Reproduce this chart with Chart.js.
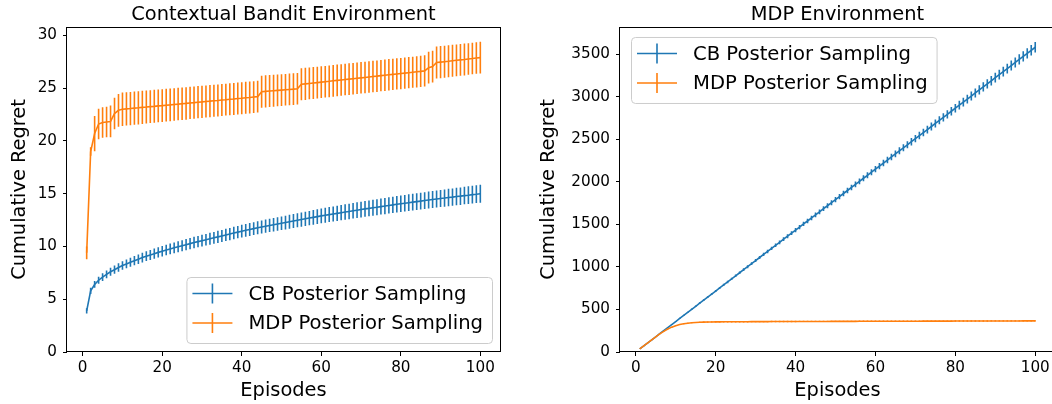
<!DOCTYPE html>
<html>
<head>
<meta charset="utf-8">
<script src="https://cdn.jsdelivr.net/npm/chart.js@4.4.0/dist/chart.umd.min.js"></script>
<style>
  html, body { margin: 0; padding: 0; background: #fff; }
  body { width: 1052px; height: 404px; overflow: hidden; position: relative; }
  #left { position: absolute; left: 0; top: 0; }
  #right { position: absolute; left: 520px; top: 0; }
</style>
</head>
<body>
<canvas id="left" width="520" height="404"></canvas>
<canvas id="right" width="536" height="404"></canvas>
<script>
// episodes (x) shared by every series
const episodes = [
  1, 2, 3, 4, 5, 6, 7, 8, 9, 10, 11, 12, 13, 14, 15, 16, 17, 18, 19, 20,
  21, 22, 23, 24, 25, 26, 27, 28, 29, 30, 31, 32, 33, 34, 35, 36, 37, 38, 39, 40,
  41, 42, 43, 44, 45, 46, 47, 48, 49, 50, 51, 52, 53, 54, 55, 56, 57, 58, 59, 60,
  61, 62, 63, 64, 65, 66, 67, 68, 69, 70, 71, 72, 73, 74, 75, 76, 77, 78, 79, 80,
  81, 82, 83, 84, 85, 86, 87, 88, 89, 90, 91, 92, 93, 94, 95, 96, 97, 98, 99, 100
];

// Contextual bandit environment
const cbEnvCbMean = [
  3.90, 5.80, 6.40, 6.80, 7.10, 7.35, 7.60, 7.80, 8.00, 8.20,
  8.35, 8.50, 8.65, 8.80, 8.95, 9.08, 9.20, 9.32, 9.44, 9.55,
  9.66, 9.77, 9.87, 9.97, 10.07, 10.17, 10.27, 10.37, 10.46, 10.55,
  10.64, 10.73, 10.82, 10.91, 11.00, 11.09, 11.18, 11.27, 11.36, 11.45,
  11.53, 11.61, 11.69, 11.77, 11.85, 11.92, 11.99, 12.06, 12.13, 12.20,
  12.27, 12.34, 12.41, 12.48, 12.55, 12.62, 12.69, 12.76, 12.83, 12.90,
  12.96, 13.02, 13.08, 13.14, 13.20, 13.26, 13.32, 13.38, 13.44, 13.50,
  13.56, 13.61, 13.67, 13.72, 13.78, 13.83, 13.89, 13.94, 14.00, 14.05,
  14.10, 14.15, 14.20, 14.25, 14.30, 14.35, 14.40, 14.45, 14.50, 14.55,
  14.59, 14.64, 14.68, 14.73, 14.77, 14.82, 14.86, 14.91, 14.95, 15.00
];
const cbEnvCbErr = [
  0.25, 0.30, 0.32, 0.34, 0.36, 0.37, 0.38, 0.39, 0.40, 0.41,
  0.42, 0.43, 0.44, 0.45, 0.46, 0.46, 0.47, 0.48, 0.49, 0.50,
  0.50, 0.51, 0.51, 0.52, 0.52, 0.53, 0.53, 0.54, 0.54, 0.55,
  0.55, 0.56, 0.56, 0.57, 0.57, 0.58, 0.58, 0.59, 0.59, 0.60,
  0.60, 0.61, 0.61, 0.62, 0.62, 0.63, 0.63, 0.64, 0.64, 0.65,
  0.65, 0.66, 0.66, 0.67, 0.67, 0.68, 0.68, 0.69, 0.69, 0.70,
  0.70, 0.71, 0.71, 0.72, 0.72, 0.73, 0.73, 0.74, 0.74, 0.75,
  0.75, 0.75, 0.76, 0.76, 0.76, 0.77, 0.77, 0.77, 0.78, 0.78,
  0.78, 0.79, 0.79, 0.79, 0.80, 0.80, 0.80, 0.81, 0.81, 0.81,
  0.82, 0.82, 0.82, 0.83, 0.83, 0.83, 0.84, 0.84, 0.84, 0.85
];
const cbEnvMdpMean = [
  9.40, 19.00, 20.70, 21.60, 21.75, 21.80, 21.85, 22.60, 22.90, 23.00,
  23.04, 23.07, 23.11, 23.14, 23.18, 23.21, 23.25, 23.28, 23.32, 23.35,
  23.39, 23.42, 23.46, 23.49, 23.53, 23.56, 23.60, 23.63, 23.67, 23.70,
  23.74, 23.77, 23.81, 23.84, 23.88, 23.91, 23.95, 23.98, 24.02, 24.05,
  24.09, 24.12, 24.16, 24.20, 24.67, 24.70, 24.73, 24.76, 24.79, 24.82,
  24.85, 24.88, 24.91, 24.95, 25.37, 25.41, 25.45, 25.49, 25.53, 25.57,
  25.61, 25.65, 25.70, 25.74, 25.78, 25.82, 25.86, 25.90, 25.94, 25.98,
  26.02, 26.06, 26.10, 26.14, 26.19, 26.23, 26.27, 26.31, 26.35, 26.39,
  26.43, 26.47, 26.51, 26.55, 26.59, 26.64, 26.95, 27.05, 27.43, 27.47,
  27.51, 27.55, 27.60, 27.64, 27.68, 27.72, 27.77, 27.81, 27.86, 27.90
];
const cbEnvMdpErr = [
  0.60, 0.40, 1.67, 1.45, 1.45, 1.45, 1.50, 1.50, 1.55, 1.58,
  1.58, 1.58, 1.57, 1.57, 1.57, 1.56, 1.56, 1.56, 1.55, 1.55,
  1.55, 1.55, 1.54, 1.54, 1.54, 1.54, 1.53, 1.53, 1.53, 1.53,
  1.52, 1.52, 1.52, 1.52, 1.52, 1.51, 1.51, 1.51, 1.51, 1.51,
  1.51, 1.51, 1.50, 1.50, 1.52, 1.52, 1.51, 1.51, 1.51, 1.51,
  1.50, 1.50, 1.50, 1.50, 1.52, 1.52, 1.51, 1.51, 1.51, 1.50,
  1.50, 1.50, 1.50, 1.50, 1.50, 1.50, 1.50, 1.49, 1.49, 1.49,
  1.49, 1.49, 1.49, 1.49, 1.49, 1.49, 1.49, 1.48, 1.48, 1.48,
  1.48, 1.48, 1.48, 1.48, 1.48, 1.48, 1.50, 1.50, 1.52, 1.52,
  1.52, 1.51, 1.51, 1.51, 1.51, 1.51, 1.50, 1.50, 1.50, 1.50
];

// MDP environment
const mdpEnvCbMean = [
  36, 72, 107, 143, 179, 215, 251, 286, 322, 358,
  394, 430, 465, 501, 537, 573, 609, 644, 680, 716,
  752, 788, 823, 859, 895, 931, 967, 1002, 1038, 1074,
  1110, 1146, 1181, 1217, 1253, 1289, 1325, 1360, 1396, 1432,
  1468, 1504, 1539, 1575, 1611, 1647, 1683, 1718, 1754, 1790,
  1826, 1862, 1897, 1933, 1969, 2005, 2041, 2076, 2112, 2148,
  2184, 2220, 2255, 2291, 2327, 2363, 2399, 2434, 2470, 2506,
  2542, 2578, 2613, 2649, 2685, 2721, 2757, 2792, 2828, 2864,
  2900, 2936, 2971, 3007, 3043, 3079, 3115, 3150, 3186, 3222,
  3258, 3294, 3329, 3365, 3401, 3437, 3473, 3508, 3544, 3580
];
const mdpEnvCbErr = [
  2, 3, 3, 4, 4, 5, 5, 6, 6, 7,
  7, 8, 8, 9, 9, 10, 10, 11, 11, 12,
  13, 13, 14, 14, 15, 16, 16, 17, 17, 18,
  19, 19, 20, 20, 21, 22, 22, 23, 23, 24,
  25, 25, 26, 26, 27, 28, 28, 29, 29, 30,
  31, 31, 32, 33, 33, 34, 35, 35, 36, 37,
  37, 38, 39, 39, 40, 41, 41, 42, 43, 43,
  44, 45, 45, 46, 47, 47, 48, 49, 49, 50,
  51, 51, 52, 53, 53, 54, 55, 55, 56, 57,
  57, 58, 58, 59, 59, 60, 60, 61, 61, 62
];
const mdpEnvMdpMean = [
  36, 72, 107, 143, 178, 212, 243, 270, 292, 309,
  322, 331, 338, 343, 346, 349, 351, 352, 353, 354,
  354, 355, 355, 355, 356, 356, 356, 356, 357, 357,
  357, 357, 357, 358, 358, 358, 358, 358, 358, 358,
  359, 359, 359, 359, 359, 359, 359, 359, 360, 360,
  360, 360, 360, 360, 360, 361, 361, 361, 361, 361,
  361, 361, 361, 362, 362, 362, 362, 362, 362, 362,
  362, 363, 363, 363, 363, 363, 363, 363, 363, 364,
  364, 364, 364, 364, 364, 364, 364, 364, 365, 365,
  365, 365, 365, 365, 365, 365, 366, 366, 366, 366
];
const mdpEnvMdpErr = [
  1, 1, 2, 2, 2, 3, 3, 3, 4, 4,
  4, 5, 5, 5, 6, 6, 6, 7, 7, 7,
  8, 8, 8, 8, 8, 8, 8, 8, 8, 8,
  8, 8, 8, 8, 8, 8, 8, 8, 8, 8,
  7, 7, 7, 7, 7, 7, 7, 7, 7, 7,
  7, 7, 7, 7, 8, 8, 8, 8, 8, 8,
  8, 8, 8, 8, 8, 8, 8, 8, 8, 8,
  8, 8, 8, 8, 8, 8, 8, 8, 8, 8,
  8, 8, 8, 8, 8, 8, 8, 8, 8, 8,
  8, 8, 8, 8, 7, 7, 7, 7, 7, 7
];

const xTicks = [0, 20, 40, 60, 80, 100];
const cbEnvYTicks = [0, 5, 10, 15, 20, 25, 30];
const mdpEnvYTicks = [0, 500, 1000, 1500, 2000, 2500, 3000, 3500];
const seriesNames = ['CB Posterior Sampling', 'MDP Posterior Sampling'];

const BLUE = '#1f77b4';
const ORANGE = '#ff7f0e';
const FONT = '"DejaVu Sans", sans-serif';
const TICK_SIZE = 15.2;
const LABEL_SIZE = 19.4;
const LEGEND_SIZE = 19.6;

const toPoints = (ys) => ys.map((y, i) => ({ x: episodes[i], y: y }));

// vertical error bars drawn right after each line, through the chart scales
const errorBarPlugin = {
  id: 'errorBars',
  afterDatasetDraw(chart, args) {
    const ds = chart.data.datasets[args.index];
    if (!ds.errs) return;
    const ctx = chart.ctx, xs = chart.scales.x, ys = chart.scales.y, a = chart.chartArea;
    ctx.save();
    ctx.beginPath();
    ctx.rect(a.left, a.top, a.right - a.left, a.bottom - a.top);
    ctx.clip();
    ctx.strokeStyle = ds.borderColor;
    ctx.lineWidth = 1.6;
    ctx.beginPath();
    ds.data.forEach((p, i) => {
      const px = xs.getPixelForValue(p.x);
      ctx.moveTo(px, ys.getPixelForValue(p.y - ds.errs[i]));
      ctx.lineTo(px, ys.getPixelForValue(p.y + ds.errs[i]));
    });
    ctx.stroke();
    ctx.restore();
  }
};

// matplotlib style frame (all 4 spines)
const framePlugin = {
  id: 'frame',
  afterDatasetsDraw(chart) {
    const ctx = chart.ctx, a = chart.chartArea;
    ctx.save();
    ctx.strokeStyle = '#000';
    ctx.lineWidth = 1;
    ctx.strokeRect(Math.round(a.left) - 0.5, Math.round(a.top) + 0.5,
      Math.round(a.right - a.left) + 1, Math.round(a.bottom - a.top) - 1);
    ctx.restore();
  }
};

// legend box with errorbar markers
const boxLegendPlugin = {
  id: 'boxLegend',
  afterDraw(chart, args, opts) {
    if (!opts.corner) return;
    const ctx = chart.ctx, a = chart.chartArea;
    ctx.save();
    ctx.font = LEGEND_SIZE + 'px ' + FONT;
    const textW = Math.max(...seriesNames.map(t => ctx.measureText(t).width));
    const w = 62 + textW + 9, h = 66;
    const x = opts.corner === 'lower right' ? a.right - 8 - w : a.left + 11;
    const y = opts.corner === 'lower right' ? a.bottom - 9 - h : a.top + 10;
    ctx.beginPath();
    ctx.roundRect(x + 0.5, y + 0.5, w, h, 4);
    ctx.fillStyle = 'rgba(255,255,255,0.8)';
    ctx.fill();
    ctx.strokeStyle = '#cccccc';
    ctx.lineWidth = 1;
    ctx.stroke();
    const colors = [BLUE, ORANGE];
    seriesNames.forEach((name, i) => {
      const cy = y + 16.5 + i * 29.5;
      ctx.strokeStyle = colors[i];
      ctx.lineWidth = 1.6;
      ctx.beginPath();
      ctx.moveTo(x + 6, cy);
      ctx.lineTo(x + 46, cy);
      ctx.moveTo(x + 26, cy - 10);
      ctx.lineTo(x + 26, cy + 10);
      ctx.stroke();
      ctx.fillStyle = '#000';
      ctx.textBaseline = 'middle';
      ctx.textAlign = 'left';
      ctx.fillText(name, x + 62, cy + 1);
    });
    ctx.restore();
  }
};

function makeChart(id, title, cbMean, cbErr, mdpMean, mdpErr, yMax, yTicks, yWidth, yTitlePad, padRight, legendCorner) {
  const ctx = document.getElementById(id).getContext('2d');
  return new Chart(ctx, {
    type: 'line',
    data: {
      datasets: [
        { label: seriesNames[0], data: toPoints(cbMean), errs: cbErr, borderColor: BLUE,
          borderWidth: 1.6, pointRadius: 0, tension: 0, order: 1 },
        { label: seriesNames[1], data: toPoints(mdpMean), errs: mdpErr, borderColor: ORANGE,
          borderWidth: 1.6, pointRadius: 0, tension: 0, order: 0 }
      ]
    },
    options: {
      responsive: false,
      animation: false,
      layout: { padding: { left: 0, right: padRight, top: 0, bottom: 0 } },
      scales: {
        x: {
          type: 'linear', min: -3.95, max: 104.95,
          afterBuildTicks: s => { s.ticks = xTicks.map(v => ({ value: v })); },
          afterFit: s => { s.height = 52; },
          grid: { drawOnChartArea: false, tickLength: 4, color: '#000', tickColor: '#000' },
          border: { display: false },
          ticks: { color: '#000', font: { family: FONT, size: TICK_SIZE }, padding: 3.4, maxRotation: 0,
            callback: v => String(v) },
          title: { display: true, text: 'Episodes', color: '#000',
            font: { family: FONT, size: LABEL_SIZE }, padding: { top: 0, bottom: 1.4 } }
        },
        y: {
          type: 'linear', min: 0, max: yMax,
          afterBuildTicks: s => { s.ticks = yTicks.map(v => ({ value: v })); },
          afterFit: s => { s.width = yWidth; },
          grid: { drawOnChartArea: false, tickLength: 4, color: '#000', tickColor: '#000' },
          border: { display: false },
          ticks: { color: '#000', font: { family: FONT, size: TICK_SIZE }, padding: 6,
            callback: v => String(v) },
          title: { display: true, text: 'Cumulative Regret', color: '#000',
            font: { family: FONT, size: LABEL_SIZE }, padding: { top: yTitlePad, bottom: 0 } }
        }
      },
      plugins: {
        legend: { display: false },
        tooltip: { enabled: false },
        title: { display: true, text: title, color: '#000', fullSize: false,
          font: { family: FONT, size: LABEL_SIZE, weight: 'normal' }, padding: { top: 3, bottom: 0.7 } },
        boxLegend: { corner: legendCorner }
      }
    },
    plugins: [errorBarPlugin, framePlugin, boxLegendPlugin]
  });
}

makeChart('left', 'Contextual Bandit Environment', cbEnvCbMean, cbEnvCbErr, cbEnvMdpMean, cbEnvMdpErr,
  30.8, cbEnvYTicks, 67, 7.9, 20, 'lower right');
makeChart('right', 'MDP Environment', mdpEnvCbMean, mdpEnvCbErr, mdpEnvMdpMean, mdpEnvMdpErr,
  3818, mdpEnvYTicks, 100, 17.4, 1, 'upper left');
</script>
</body>
</html>
